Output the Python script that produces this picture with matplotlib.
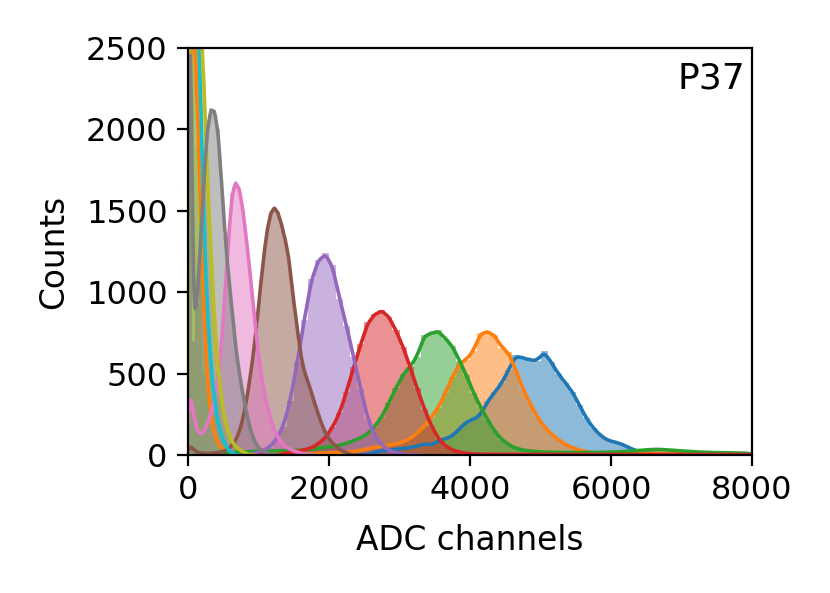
import numpy as np
import matplotlib
matplotlib.use("Agg")
import matplotlib.pyplot as plt
import seaborn as sns

# ---------------- data ----------------
# each series: first bin edge, bin width (ADC channels), counts per bin
blue_start, blue_width = 2600, 100
blue_counts = [20, 25, 30, 35, 40, 45, 55, 70, 60, 85,
               100, 115, 160, 205, 218, 245, 330, 385, 440, 525,
               615, 595, 585, 575, 640, 570, 500, 445, 390, 310,
               225, 165, 120, 90, 80, 68, 45, 28, 15, 10,
               8, 7, 7, 6, 6, 6, 5, 5, 5, 5, 4, 4, 4, 4]

orange_start, orange_width = 0, 100
orange_counts = [3400, 1900, 500, 130, 45, 20,
                 10, 9, 8, 8, 8, 8, 8, 8, 8, 8, 8, 9, 10, 12, 14, 16, 18, 22,
                 28, 38, 47, 53, 60, 68, 80, 100, 135, 175,
                 230, 290, 380, 480, 565, 585, 640, 750, 760, 735,
                 660, 630, 520, 405, 320, 235, 175, 130, 95, 65,
                 45, 30, 20, 14, 11,
                 10, 10, 10, 10, 10, 10, 10, 10, 10, 9, 9, 9, 9, 9, 9, 8, 8, 8, 8, 8, 8]

green_start, green_width = 500, 100
green_counts = [10, 15, 18, 20, 22, 23, 24, 25, 26, 27,
                28, 30, 35, 42, 48, 52, 60, 72, 88, 105,
                130, 175, 235, 320, 410, 495, 545, 600, 740, 745,
                765, 715, 670, 580, 490, 380, 295, 215, 145, 95,
                62, 42, 30, 24, 20, 18, 17, 16, 15, 15,
                15, 15, 15, 16, 17, 18, 20, 23, 26, 30,
                33, 35, 33, 30, 26, 23, 20, 18, 16, 15,
                14, 13, 12, 12, 11]

red_start, red_width = 1300, 100
red_counts = [10, 15, 22, 32, 42, 70, 105, 170, 255, 390,
              540, 680, 815, 865, 890, 850, 765, 665, 540, 410,
              285, 180, 100, 55, 30, 18, 10,
              5, 5, 4, 4, 4, 4, 4, 4, 4, 4, 4, 4, 4, 4, 4, 4, 4, 4, 4, 4,
              4, 4, 4, 4, 4, 4, 4, 4, 4, 4, 4, 4, 4, 4, 4, 4, 4, 4, 4, 4]

purple_start, purple_width = 900, 100
purple_counts = [10, 25, 45, 92, 170, 330, 570, 830, 1080, 1200,
                 1240, 1165, 960, 790, 600, 405, 220, 115, 60, 28,
                 12, 5]

brown_start, brown_width = 0, 50
brown_counts = [60, 35, 18, 12, 10, 10, 10, 12, 15, 20,
                25, 38, 60, 88, 140, 215, 320, 460, 610, 800,
                1020, 1230, 1390, 1490, 1525, 1490, 1420, 1330, 1230, 1030,
                860, 690, 550, 480, 420, 350, 280, 215, 160, 115,
                85, 65, 40, 28, 18, 10]

pink_start, pink_width = 0, 50
pink_counts = [420, 260, 150, 125, 140, 190, 250, 330, 480, 660,
               1010, 1330, 1610, 1683, 1640, 1525, 1340, 1140, 920, 700,
               530, 395, 300, 215, 150, 110, 80, 55, 40, 30,
               22, 15, 10, 6]

gray_start, gray_width = 0, 50
gray_counts = [3500, 700, 930, 1260, 1700, 2010, 2130, 2120, 2000, 1680,
               1350, 1100, 890, 665, 510, 380, 270, 170, 105, 58,
               35, 20, 12, 8]

olive_start, olive_width = 0, 50
olive_counts = [3500, 3300, 3000, 2750, 2300, 1700, 1250, 820, 530, 340,
                210, 135, 82, 52, 35, 20, 10]

cyan_start, cyan_width = 0, 50
cyan_counts = [3300, 3200, 2900, 2300, 1400, 880, 545, 340, 210, 125,
               65, 30, 15]

# drawing order (later series lie on top)
series = [
    (blue_start, blue_width, blue_counts, "tab:blue"),
    (orange_start, orange_width, orange_counts, "tab:orange"),
    (green_start, green_width, green_counts, "tab:green"),
    (red_start, red_width, red_counts, "tab:red"),
    (purple_start, purple_width, purple_counts, "tab:purple"),
    (brown_start, brown_width, brown_counts, "tab:brown"),
    (pink_start, pink_width, pink_counts, "tab:pink"),
    (cyan_start, cyan_width, cyan_counts, "tab:cyan"),
    (olive_start, olive_width, olive_counts, "tab:olive"),
    (gray_start, gray_width, gray_counts, "tab:gray"),
]

x_ticks = [0, 2000, 4000, 6000, 8000]
y_ticks = [0, 500, 1000, 1500, 2000, 2500]
panel_label = "P37"
x_label = "ADC channels"
y_label = "Counts"

# ---------------- figure ----------------
plt.rcParams["font.family"] = ["DejaVu Sans"]
FS = 11.5
fig = plt.figure(figsize=(4.15, 2.965), dpi=200)
ax = fig.add_axes([188 / 830, 1 - 455 / 593, (752 - 188) / 830, (455 - 48) / 593])

for start, width, counts, color in series:
    counts = np.asarray(counts, dtype=float)
    edges = start + width * np.arange(len(counts) + 1)
    centers = 0.5 * (edges[:-1] + edges[1:])
    std = np.sqrt(np.cov(centers, aweights=counts))
    bw = 0.6 * width
    sns.histplot(x=centers, weights=counts, bins=[float(e) for e in edges],
                 kde=True, color=color, alpha=0.5, ax=ax,
                 edgecolor="white", linewidth=0.0,
                 kde_kws=dict(bw_method=float(bw / std), gridsize=600, cut=2),
                 line_kws=dict(linewidth=1.3))

ax.set_xlim(0, 8000)
ax.set_ylim(0, 2500)
ax.set_xticks(x_ticks)
ax.set_yticks(y_ticks)
ax.tick_params(labelsize=FS, length=3.85, width=0.8)
ax.set_xlabel(x_label, fontsize=11.8, labelpad=6.5)
ax.set_ylabel(y_label, fontsize=11.8, labelpad=5.8)
ax.text(0.988, 0.968, panel_label, transform=ax.transAxes, ha="right", va="top",
        fontsize=13)

fig.savefig("out.png", dpi=200)
